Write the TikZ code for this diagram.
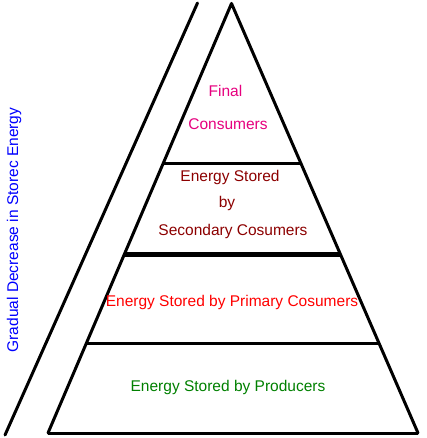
\documentclass[tikz,border=0pt]{standalone}
\usepackage{fontspec}
\setmainfont{Liberation Sans}
\usetikzlibrary{calc}
\definecolor{finalpink}{RGB}{230,0,126}
\definecolor{secred}{RGB}{140,0,0}
\definecolor{primred}{RGB}{255,0,0}
\definecolor{prodgreen}{RGB}{0,128,0}
\definecolor{sideblue}{RGB}{0,0,255}
\tikzset{
    side/.style={line width=3pt,line cap=round,line join=round},
    lbl/.style={font=\fontsize{15.5}{18}\selectfont,inner sep=0pt,anchor=base},
}
\begin{document}
\begin{tikzpicture}[x=1pt,y=-1pt]
    \useasboundingbox (0,0) rectangle (426,438);
    %% pyramid
    \coordinate (apex) at (231.5,3.5);
    \coordinate (bl) at (48,433);
    \coordinate (br) at (418,433);
    \draw[side] (bl) -- (apex) -- (br);
    \draw[line width=3pt] (bl) -- (br);
    %% levels
    \foreach \t/\w in {0.3735/3,0.5835/5,0.7912/3}
        \draw[line width=\w pt] ($(apex)!\t!(bl)$) -- ($(apex)!\t!(br)$);
    %% side bar
    \coordinate (bartop) at (197.5,3);
    \coordinate (barbot) at (5,435);
    \draw[side] (bartop) -- (barbot);
    \node[lbl,rotate=90,text=sideblue] (decr) at (18,230) {Gradual Decrease in Storec Energy};
    %% labels
    \node[lbl,text=finalpink] (final) at (225.5,97) {Final};
    \node[lbl,text=finalpink] (cons) at (228,130) {Consumers};
    \node[lbl,text=secred] (sec1) at (230,182) {Energy Stored};
    \node[lbl,text=secred] (sec2) at (227,207) {by};
    \node[lbl,text=secred] (sec3) at (233,235) {Secondary Cosumers};
    \node[lbl,text=primred] (prim) at (232,306.5) {Energy Stored by Primary Cosumers};
    \node[lbl,text=prodgreen] (prod) at (228,391) {Energy Stored by Producers};
\end{tikzpicture}
\end{document}
